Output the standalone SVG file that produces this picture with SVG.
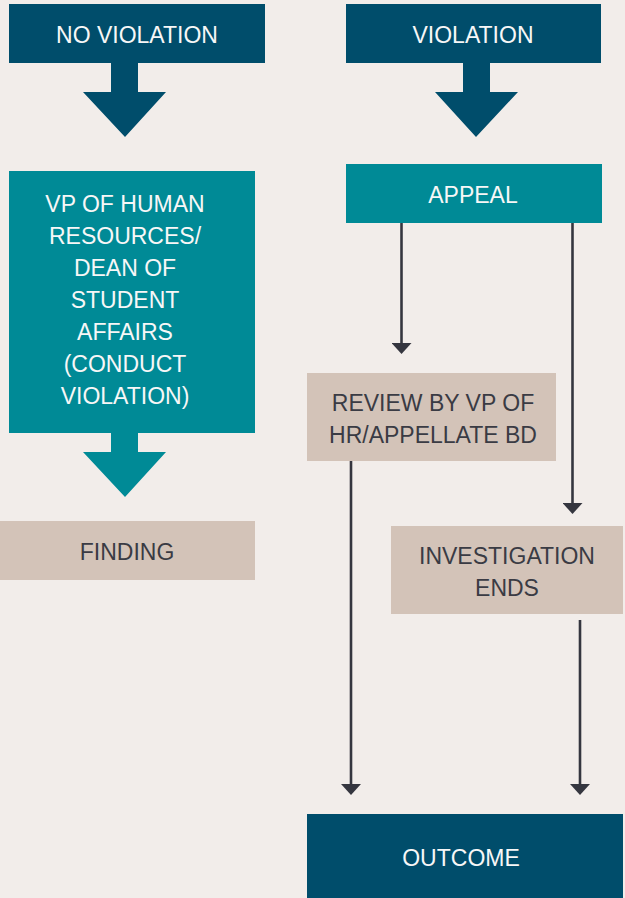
<svg xmlns="http://www.w3.org/2000/svg" width="625" height="898" viewBox="0 0 625 898">
<style>
.bg{fill:#F2EDEA}
.dark{fill:#004D6B}
.teal{fill:#008A96}
.tan{fill:#D3C3B8}
.wt{fill:#F7F7F7;font-family:"Liberation Sans",Arial,sans-serif;font-size:23px;text-anchor:middle}
.dt{fill:#3A3B44;font-family:"Liberation Sans",Arial,sans-serif;font-size:23px;text-anchor:middle}
.ln{stroke:#35363F;stroke-width:2.6;fill:none}
</style>
<defs>
<marker id="ah" viewBox="0 0 11 20" refX="0" refY="10" markerWidth="11" markerHeight="20" markerUnits="userSpaceOnUse" orient="auto">
<path d="M0,0 L11,10 L0,20 z" fill="#35363F"/>
</marker>
</defs>
<rect class="bg" x="0" y="0" width="625" height="898"/>
<g id="connectors">
<polygon class="dark" points="111,63 138,63 138,92 166,92 125,137 83,92 111,92"/>
<polygon class="dark" points="463,63 490,63 490,92 518,92 476,137 435,92 463,92"/>
<polygon class="teal" points="111,433 138,433 138,452 166,452 125,497 83,452 111,452"/>
<line class="ln" x1="401.5" y1="223" x2="401.5" y2="343" marker-end="url(#ah)"/>
<line class="ln" x1="572.5" y1="223" x2="572.5" y2="503" marker-end="url(#ah)"/>
<line class="ln" x1="351" y1="461" x2="351" y2="784" marker-end="url(#ah)"/>
<line class="ln" x1="580" y1="620" x2="580" y2="784" marker-end="url(#ah)"/>
</g>
<g id="no-violation">
<rect class="dark" x="9" y="4" width="256" height="59"/>
<text class="wt" x="137" y="43">NO VIOLATION</text>
</g>
<g id="violation">
<rect class="dark" x="346" y="4" width="255" height="59"/>
<text class="wt" x="473" y="43">VIOLATION</text>
</g>
<g id="vp-hr">
<rect class="teal" x="9" y="171" width="246" height="262"/>
<text class="wt" x="125" y="212">VP OF HUMAN</text>
<text class="wt" x="125" y="244">RESOURCES/</text>
<text class="wt" x="125" y="276">DEAN OF</text>
<text class="wt" x="125" y="308">STUDENT</text>
<text class="wt" x="125" y="340">AFFAIRS</text>
<text class="wt" x="125" y="372">(CONDUCT</text>
<text class="wt" x="125" y="404">VIOLATION)</text>
</g>
<g id="finding">
<rect class="tan" x="0" y="521" width="255" height="59"/>
<text class="dt" x="127" y="560">FINDING</text>
</g>
<g id="appeal">
<rect class="teal" x="346" y="164" width="256" height="59"/>
<text class="wt" x="473" y="203">APPEAL</text>
</g>
<g id="review">
<rect class="tan" x="307" y="373" width="249" height="88"/>
<text class="dt" x="433" y="411">REVIEW BY VP OF</text>
<text class="dt" x="433" y="443">HR/APPELLATE BD</text>
</g>
<g id="investigation-ends">
<rect class="tan" x="391" y="526" width="232" height="88"/>
<text class="dt" x="507" y="564">INVESTIGATION</text>
<text class="dt" x="507" y="596">ENDS</text>
</g>
<g id="outcome">
<rect class="dark" x="307" y="814" width="316" height="84"/>
<text class="wt" x="461" y="866">OUTCOME</text>
</g>
</svg>
